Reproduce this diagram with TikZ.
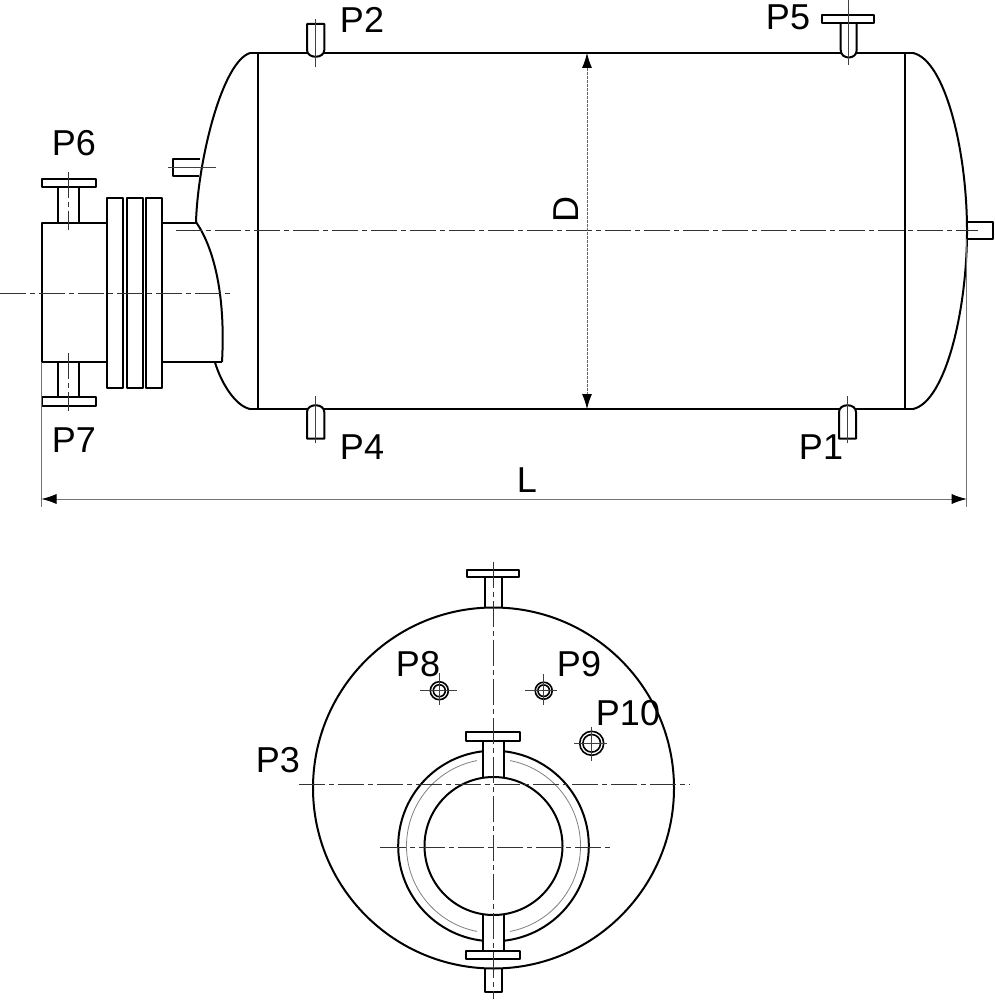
\documentclass[tikz,border=0pt]{standalone}
\usepackage{fontspec}
\setmainfont{Liberation Sans}
\usetikzlibrary{arrows.meta}
\tikzset{
  main/.style={line width=2pt,black,line join=round},
  ctr/.style={line width=0.8pt,black!80,dash pattern=on 26pt off 4pt on 5pt off 4pt},
  axisline/.style={line width=0.8pt,black!75},
  thinring/.style={line width=0.8pt,black!50},
  dimline/.style={line width=0.8pt,black!55},
  dimarrow/.style={dimline,{Latex[length=15pt,width=10pt,black]}-{Latex[length=15pt,width=10pt,black]}},
  dimarrowD/.style={line width=0.8pt,black!60,dash pattern=on 3pt off 1pt,{Latex[length=15pt,width=10pt,black]}-{Latex[length=15pt,width=10pt,black]}},
  lab/.style={font=\fontsize{36}{36}\selectfont,inner sep=0pt,text=black}
}
\begin{document}
\begin{tikzpicture}[x=1pt,y=-1pt]
\useasboundingbox (0,0) rectangle (994,1000);
% --- shell ---
\draw[main] (250,53) -- (913,53);
\draw[main] (250,409) -- (913,409);
\draw[main] (258,53) -- (258,409);
\draw[main] (904.7,53) -- (904.7,409);
\draw[main] (913,53) .. controls (945,60) and (967,150) .. (967,231) .. controls (967,312) and (945,402) .. (913,409);
\draw[main] (250,53) .. controls (222,62) and (198,160) .. (196,222);
\draw[main] (215,362.5) .. controls (222,385) and (236,406) .. (250,409);
% --- front channel ---
\draw[main] (41.5,223) rectangle (107,362);
\draw[main] (107.3,197.7) rectangle (122.7,387.7);
\draw[main] (127.3,197.7) rectangle (143,387.7);
\draw[main] (146.3,197.7) rectangle (162,387.7);
\draw[main] (162,223) -- (196,223);
\draw[main] (162,362) -- (222,362);
\draw[main] (196,222) .. controls (212,245) and (226,290) .. (222,362);
% --- P6 / P7 ---
\draw[main] (57.7,187.5) -- (57.7,223) (79,187.5) -- (79,223);
\draw[main] (41.7,178.7) rectangle (96,187.3);
\draw[main] (57.7,362) -- (57.7,397.3) (79,362) -- (79,397.3);
\draw[main] (41.7,397.3) rectangle (96,406);
% --- small nozzle on head ---
\draw[main] (200,159) -- (173.3,159) -- (173.3,176) -- (198.5,176);
% --- right nozzle ---
\draw[main] (966.7,221.7) -- (992.7,221.7) -- (992.7,238.7) -- (966.7,238.7);
% --- P2, P4, P5, P1 ---
\draw[main,fill=white] (307,24) -- (307,50) .. controls (307,59) and (324.3,59) .. (324.3,50) -- (324.3,24) -- cycle;
\draw[main,fill=white] (307,438.7) -- (307,412) .. controls (307,403) and (324.3,403) .. (324.3,412) -- (324.3,438.7) -- cycle;
\draw[main,fill=white] (840.7,22.7) -- (840.7,50) .. controls (840.7,60) and (856.7,60) .. (856.7,50) -- (856.7,22.7);
\draw[main] (822,15) rectangle (874,22.7);
\draw[main,fill=white] (839,438.7) -- (839,412) .. controls (839,403) and (856,403) .. (856,412) -- (856,438.7) -- cycle;
% --- centre lines, side view ---
\draw[ctr] (176,230) -- (978,230);
\draw[ctr] (0,293.3) -- (232,293.3);
\draw[ctr] (68.7,171.7) -- (68.7,230);
\draw[ctr] (68.7,353) -- (68.7,410.7);
\draw[axisline] (168,167) -- (216,167);
\draw[axisline] (315.7,19) -- (315.7,66.7);
\draw[axisline] (315.7,396) -- (315.7,443);
\draw[axisline] (848,0) -- (848,65);
\draw[axisline] (847.7,396) -- (847.7,443);
% --- dimensions ---
\coordinate (dl) at (41.5,499);
\coordinate (dr) at (966.7,499);
\coordinate (dt) at (587,53);
\coordinate (db) at (587,409);
\coordinate (el) at (41.5,362);
\coordinate (elb) at (41.5,507);
\coordinate (er) at (966.7,239);
\coordinate (erb) at (966.7,507);
\draw[dimline] (el) -- (elb);
\draw[dimline] (er) -- (erb);
\draw[dimarrow] (dl) -- (dr);
\draw[dimarrowD] (dt) -- (db);
% --- end view ---
\draw[main] (493.5,788) circle (180.5);
\draw[main] (493.5,846) circle (69);
\begin{scope}[shift={(493.5,846)}]
\draw[main] (276.2:95.3) arc[start angle=276.2,end angle=443.8,radius=95.3];
\draw[main] (96.2:95.3) arc[start angle=96.2,end angle=263.8,radius=95.3];
\draw[thinring] (281:87) arc[start angle=281,end angle=439,radius=87];
\draw[thinring] (101:87) arc[start angle=101,end angle=259,radius=87];
\end{scope}
\draw[main] (485.3,576.7) -- (485.3,607.5) (501.7,576.7) -- (501.7,607.5);
\draw[main] (467,570) rectangle (519,576.7);
\draw[main] (483.3,741) -- (483.3,777.5) (503.7,741) -- (503.7,777.5);
\draw[main] (466.3,732.3) rectangle (520.3,741);
\draw[main] (483.3,915) -- (483.3,951) (503.7,915) -- (503.7,951);
\draw[main] (466.3,951) rectangle (520.3,959.3);
\draw[main] (485,968.5) -- (485,992) -- (501.7,992) -- (501.7,968.5);
\draw[ctr] (493.3,562) -- (493.3,999);
\draw[ctr] (299,784) -- (690,784);
\draw[ctr] (380,847.3) -- (612,847.3);
% --- P8, P9, P10 ---
\draw[main,line width=1.6pt] (439.3,690.7) circle (9) (439.3,690.7) circle (6);
\draw[axisline] (420,690.7) -- (456.7,690.7) (439.3,673) -- (439.3,705);
\draw[main,line width=1.6pt] (543.7,690.7) circle (8.5) (543.7,690.7) circle (5.8);
\draw[axisline] (525.3,690.7) -- (557.3,690.7) (543.7,674) -- (543.7,705);
\draw[main,line width=1.6pt] (591.7,743.3) circle (12) (591.7,743.3) circle (8.8);
\draw[axisline] (574.3,743.3) -- (606.7,743.3) (591.7,726.7) -- (591.7,761.3);
% --- labels ---
\node[lab] (p2) at (362,20) {P2};
\node[lab] (p5) at (788,17) {P5};
\node[lab] (p6) at (74,143) {P6};
\node[lab] (p7) at (74,440) {P7};
\node[lab] (p4) at (362,447) {P4};
\node[lab] (p1) at (821,447) {P1};
\node[lab] (p8) at (418,664) {P8};
\node[lab] (p9) at (579,664) {P9};
\node[lab] (p10) at (628,713) {P10};
\node[lab] (p3) at (278,760) {P3};
\node[lab] (l) at (527,480) {L};
\node[lab,rotate=90] (d) at (566,210) {D};
\end{tikzpicture}
\end{document}
